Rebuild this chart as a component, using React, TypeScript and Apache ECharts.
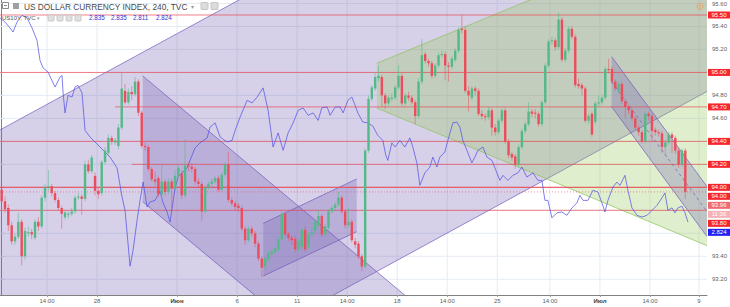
import React, { useEffect, useRef } from "react";
import * as echarts from "echarts";

const FONT = "Liberation Sans, Arial, sans-serif";

// DXY 4h candles: [open, close, low, high]
const dxyCandles: number[][] = [
  [93.98, 93.88, 93.85, 94.03], [93.88, 93.81, 93.78, 93.92], [93.82, 93.67, 93.62, 93.85], [93.67, 93.53, 93.5, 93.7],
  [93.53, 93.57, 93.5, 93.6], [93.57, 93.7, 93.55, 93.78], [93.7, 93.4, 93.32, 93.72], [93.4, 93.62, 93.37, 93.65],
  [93.6, 93.61, 93.57, 93.66], [93.61, 93.59, 93.55, 93.64], [93.56, 93.7, 93.54, 93.72], [93.7, 93.66, 93.62, 93.74],
  [93.66, 93.91, 93.64, 93.93], [93.91, 94.0, 93.88, 94.03], [94.0, 94.01, 93.97, 94.15], [94.01, 93.95, 93.92, 94.03],
  [93.95, 93.89, 93.87, 93.97], [93.89, 93.82, 93.8, 93.91], [93.82, 93.77, 93.64, 93.84], [93.74, 93.78, 93.72, 93.8],
  [93.76, 93.77, 93.73, 93.79], [93.77, 93.79, 93.75, 93.82], [93.79, 93.91, 93.77, 93.93], [93.91, 93.92, 93.89, 93.95],
  [93.92, 93.9, 93.76, 93.94], [93.9, 94.2, 93.88, 94.23], [94.2, 94.14, 94.12, 94.24], [94.14, 94.26, 94.12, 94.28],
  [94.1, 93.97, 93.93, 94.13], [93.97, 93.94, 93.9, 94.0], [93.95, 94.22, 93.93, 94.24], [94.22, 94.32, 94.2, 94.35],
  [94.3, 94.43, 94.28, 94.46], [94.43, 94.4, 94.37, 94.45], [94.39, 94.41, 94.37, 94.43], [94.36, 94.52, 94.33, 94.55],
  [94.52, 94.86, 94.5, 95.0], [94.84, 94.74, 94.72, 94.9], [94.74, 94.83, 94.72, 94.86], [94.83, 94.81, 94.76, 94.88],
  [94.81, 94.92, 94.79, 94.96], [94.92, 94.65, 94.62, 94.94], [94.65, 94.36, 94.34, 94.67], [94.36, 94.35, 94.32, 94.39],
  [94.35, 94.16, 94.14, 94.37], [94.16, 94.07, 94.05, 94.18], [94.07, 94.05, 94.02, 94.14], [94.08, 93.94, 93.92, 94.1],
  [93.94, 94.05, 93.9, 94.2], [94.05, 93.96, 93.93, 94.07], [93.96, 94.05, 93.94, 94.08], [94.05, 93.99, 93.8, 94.07],
  [93.99, 94.1, 93.97, 94.15], [94.1, 94.17, 94.08, 94.19], [94.12, 93.93, 93.9, 94.15], [93.93, 94.19, 93.91, 94.42],
  [94.19, 94.18, 94.14, 94.22], [94.18, 94.16, 94.13, 94.21], [94.16, 94.05, 94.02, 94.18], [94.05, 94.03, 94.0, 94.08],
  [94.03, 93.79, 93.71, 94.05], [93.79, 94.0, 93.77, 94.02], [94.0, 94.03, 93.98, 94.05], [94.03, 94.05, 94.01, 94.08],
  [94.05, 94.08, 94.03, 94.1], [94.08, 93.98, 93.96, 94.1], [93.98, 94.11, 93.96, 94.13], [94.11, 94.2, 94.09, 94.22],
  [94.2, 93.89, 93.87, 94.31], [93.89, 93.86, 93.84, 93.91], [93.86, 93.83, 93.8, 93.88], [93.84, 93.82, 93.79, 93.86],
  [93.82, 93.64, 93.62, 93.84], [93.64, 93.54, 93.5, 93.66], [93.54, 93.64, 93.52, 93.66], [93.64, 93.6, 93.57, 93.66],
  [93.6, 93.51, 93.48, 93.62], [93.51, 93.38, 93.36, 93.53], [93.38, 93.3, 93.22, 93.4], [93.31, 93.38, 93.28, 93.4],
  [93.37, 93.43, 93.35, 93.45], [93.42, 93.44, 93.4, 93.46], [93.44, 93.47, 93.42, 93.49], [93.46, 93.55, 93.44, 93.57],
  [93.55, 93.77, 93.53, 93.8], [93.77, 93.59, 93.57, 93.79], [93.59, 93.56, 93.53, 93.61], [93.56, 93.54, 93.5, 93.58],
  [93.55, 93.46, 93.43, 93.58], [93.46, 93.53, 93.44, 93.55], [93.48, 93.63, 93.45, 93.65], [93.63, 93.46, 93.44, 93.66],
  [93.48, 93.59, 93.46, 93.61], [93.59, 93.61, 93.57, 93.66], [93.62, 93.7, 93.6, 93.72], [93.67, 93.75, 93.65, 93.8],
  [93.75, 93.59, 93.57, 93.77], [93.59, 93.66, 93.57, 93.68], [93.65, 93.79, 93.63, 93.81], [93.79, 93.82, 93.77, 93.84],
  [93.82, 93.85, 93.8, 93.87], [93.85, 93.91, 93.83, 93.96], [93.91, 93.79, 93.77, 93.93], [93.79, 93.67, 93.64, 93.81],
  [93.67, 93.7, 93.65, 93.82], [93.7, 93.54, 93.52, 93.72], [93.53, 93.5, 93.47, 93.56], [93.51, 93.4, 93.38, 93.53],
  [93.4, 93.31, 93.27, 93.42], [93.31, 94.32, 93.29, 94.34], [94.32, 94.77, 94.3, 94.8], [94.77, 94.87, 94.75, 94.89],
  [94.86, 94.96, 94.84, 95.0], [94.95, 94.97, 94.92, 95.06], [94.96, 94.8, 94.7, 94.98], [94.8, 94.73, 94.68, 94.82],
  [94.73, 94.78, 94.71, 94.8], [94.77, 94.78, 94.75, 94.82], [94.78, 94.87, 94.76, 94.89], [94.87, 94.97, 94.85, 95.06],
  [94.97, 94.73, 94.71, 94.99], [94.73, 94.8, 94.71, 94.82], [94.8, 94.78, 94.75, 94.83], [94.78, 94.74, 94.72, 94.8],
  [94.74, 94.62, 94.55, 94.76], [94.62, 94.92, 94.6, 94.95], [94.92, 95.15, 94.9, 95.29], [95.16, 95.1, 95.08, 95.18],
  [95.1, 95.08, 95.05, 95.12], [95.08, 94.97, 94.95, 95.1], [94.97, 95.06, 94.95, 95.08], [95.06, 95.15, 95.04, 95.17],
  [95.15, 95.16, 95.13, 95.19], [95.16, 95.06, 94.93, 95.18], [95.06, 95.05, 94.92, 95.09], [95.05, 95.12, 95.03, 95.14],
  [95.11, 95.19, 95.09, 95.21], [95.19, 95.37, 95.17, 95.39], [95.38, 95.37, 95.34, 95.5], [95.37, 94.84, 94.82, 95.4],
  [94.84, 94.8, 94.66, 94.88], [94.78, 94.86, 94.76, 94.88], [94.86, 94.84, 94.8, 94.88], [94.84, 94.64, 94.62, 94.86],
  [94.64, 94.62, 94.59, 94.67], [94.62, 94.61, 94.58, 94.64], [94.61, 94.67, 94.59, 94.7], [94.67, 94.52, 94.45, 94.69],
  [94.52, 94.48, 94.45, 94.55], [94.48, 94.58, 94.46, 94.6], [94.58, 94.67, 94.56, 94.69], [94.67, 94.4, 94.38, 94.69],
  [94.4, 94.28, 94.25, 94.42], [94.29, 94.26, 94.23, 94.31], [94.27, 94.2, 94.16, 94.29], [94.2, 94.35, 94.18, 94.37],
  [94.35, 94.49, 94.33, 94.51], [94.49, 94.55, 94.47, 94.57], [94.55, 94.66, 94.53, 94.74], [94.66, 94.64, 94.61, 94.68],
  [94.65, 94.64, 94.6, 94.68], [94.64, 94.55, 94.53, 94.66], [94.55, 94.74, 94.53, 94.76], [94.74, 95.06, 94.72, 95.08],
  [95.06, 95.27, 95.04, 95.29], [95.27, 95.28, 95.24, 95.31], [95.28, 95.22, 95.19, 95.3], [95.22, 95.46, 95.2, 95.52],
  [95.46, 95.11, 95.09, 95.48], [95.11, 95.19, 95.09, 95.21], [95.19, 95.38, 95.17, 95.4], [95.38, 95.31, 95.29, 95.4],
  [95.31, 94.89, 94.87, 95.33], [94.9, 94.88, 94.86, 94.95], [94.89, 94.86, 94.8, 94.91], [94.86, 94.58, 94.56, 94.88],
  [94.58, 94.62, 94.55, 94.64], [94.64, 94.46, 94.44, 94.66], [94.57, 94.73, 94.55, 94.75], [94.73, 94.74, 94.71, 94.8],
  [94.74, 94.78, 94.72, 94.8], [94.78, 95.03, 94.76, 95.05], [95.03, 95.02, 94.99, 95.12], [95.03, 94.92, 94.9, 95.05],
  [94.92, 94.86, 94.84, 94.94], [94.84, 94.9, 94.82, 94.92], [94.9, 94.75, 94.73, 94.92], [94.75, 94.7, 94.6, 94.77],
  [94.7, 94.67, 94.64, 94.72], [94.67, 94.6, 94.58, 94.69], [94.6, 94.52, 94.5, 94.62], [94.52, 94.48, 94.45, 94.54],
  [94.48, 94.4, 94.38, 94.5], [94.4, 94.64, 94.38, 94.66], [94.64, 94.62, 94.58, 94.66], [94.62, 94.49, 94.4, 94.64],
  [94.5, 94.48, 94.45, 94.52], [94.48, 94.47, 94.44, 94.5], [94.47, 94.35, 94.3, 94.49], [94.35, 94.39, 94.28, 94.41],
  [94.39, 94.46, 94.37, 94.48], [94.46, 94.43, 94.3, 94.48], [94.43, 94.32, 94.29, 94.45], [94.32, 94.2, 94.17, 94.34],
  [94.2, 94.32, 94.18, 94.34], [94.32, 93.96, 93.9, 94.34],
];

// US10Y overlay: [bar, yield]
const tnyPoints: number[][] = [
  [-0.5, 3.069], [1.0, 3.064], [2.5, 3.057], [3.4, 3.052], [4.6, 3.064], [6.1, 3.072], [7.6, 3.069], [9.1, 3.057],
  [10.6, 3.042], [11.5, 3.018], [12.4, 3.009], [13.9, 3.004], [16.0, 2.986], [17.5, 2.998], [18.1, 3.0], [18.4, 2.98],
  [19.0, 2.955], [19.9, 2.976], [21.1, 2.974], [22.0, 2.986], [22.9, 2.988], [24.1, 2.979], [25.0, 2.934], [26.5, 2.926],
  [29.5, 2.914], [32.5, 2.902], [34.6, 2.889], [36.1, 2.854], [37.0, 2.838], [38.5, 2.771], [39.4, 2.79], [40.6, 2.826],
  [41.5, 2.85], [42.4, 2.872], [43.6, 2.842], [44.5, 2.848], [46.0, 2.85], [47.5, 2.861], [48.4, 2.847], [49.6, 2.836],
  [50.5, 2.824], [52.0, 2.865], [52.9, 2.878], [55.6, 2.889], [58.0, 2.913], [59.5, 2.919], [61.6, 2.925], [62.5, 2.938],
  [64.0, 2.943], [65.5, 2.926], [67.6, 2.92], [69.1, 2.922], [70.0, 2.934], [71.5, 2.95], [73.6, 2.97], [75.1, 2.967],
  [76.6, 2.974], [78.4, 2.985], [79.9, 2.958], [81.4, 2.914], [82.9, 2.931], [84.4, 2.91], [85.9, 2.931], [87.4, 2.943],
  [88.9, 2.958], [90.4, 2.961], [91.9, 2.952], [93.4, 2.955], [94.9, 2.946], [96.0, 2.961], [97.6, 2.962], [98.5, 2.952],
  [100.0, 2.962], [101.5, 2.962], [102.4, 2.955], [103.8, 2.97], [105.0, 2.974], [106.0, 2.964], [106.8, 2.955], [108.3, 2.944],
  [109.8, 2.943], [111.3, 2.939], [112.8, 2.928], [114.3, 2.922], [115.2, 2.904], [115.8, 2.898], [117.0, 2.919], [118.0, 2.914],
  [119.4, 2.922], [120.9, 2.914], [122.4, 2.925], [123.3, 2.914], [124.5, 2.895], [125.4, 2.868], [126.9, 2.883], [128.4, 2.89],
  [129.3, 2.902], [130.5, 2.89], [131.4, 2.902], [132.9, 2.908], [133.8, 2.922], [135.3, 2.943], [136.5, 2.944], [137.4, 2.938],
  [138.3, 2.922], [139.8, 2.907], [141.0, 2.895], [141.9, 2.902], [142.8, 2.91], [144.3, 2.914], [145.5, 2.902], [147.0, 2.898],
  [148.5, 2.883], [149.4, 2.874], [150.3, 2.88], [151.8, 2.874], [153.3, 2.88], [154.8, 2.883], [156.0, 2.89], [157.5, 2.878],
  [159.3, 2.883], [160.8, 2.874], [162.0, 2.874], [162.9, 2.85], [163.8, 2.85], [165.0, 2.829], [166.5, 2.835], [168.0, 2.836],
  [169.5, 2.832], [171.0, 2.841], [172.5, 2.847], [173.4, 2.856], [174.3, 2.85], [175.8, 2.85], [177.3, 2.862], [178.8, 2.86],
  [180.0, 2.847], [180.9, 2.836], [181.8, 2.85], [183.3, 2.866], [184.5, 2.872], [185.4, 2.868], [186.9, 2.88], [187.8, 2.862],
  [189.0, 2.841], [190.5, 2.832], [192.0, 2.83], [193.5, 2.832], [195.0, 2.838], [196.5, 2.844], [198.0, 2.853], [198.9, 2.859],
  [199.8, 2.838], [201.0, 2.841], [201.9, 2.835], [202.8, 2.841], [204.0, 2.843], [204.9, 2.835], [205.8, 2.824],
];
const tnyLegend = [2.835, 2.835, 2.811, 2.824];

const xTickBars = [13.6, 28.6, 52.6, 70.6, 88.6, 103.6, 118.6, 133.6, 148.6, 164.4, 179.4, 194.4, 209.1];
const xTickTexts = ["14:00", "28", "Июн", "6", "11", "14:00", "18", "14:00", "25", "14:00", "Июл", "14:00", "9"];
const monthTexts = ["Июн", "Июл"];
const yTicks = [93.2, 93.4, 93.6, 93.8, 94.0, 94.2, 94.4, 94.6, 94.8, 95.0, 95.2, 95.4, 95.6];

const levelPrices = [95.5, 95.0, 94.7, 94.4, 94.2, 94.0, 94.0, 93.8];
const levelStartBars = [-0.5, -0.5, 34, -0.5, 39, -0.5, -0.5, -0.5];

// channel corners [bar, price]: upper start, upper end, lower end, lower start
const purpleChannel = [[-10, 94.35], [215, 97.9], [215, 94.89], [-10, 91.33]];
const greenChannel = [[112.5, 95.08], [215, 96.31], [215, 93.45], [112.5, 94.69]];
const fallChannel = [[42.3, 94.97], [130, 92.84], [130, 91.75], [42.3, 93.875]];
const riseChannel = [[78.45, 93.687], [106.45, 94.073], [106.45, 93.614], [78.45, 93.228]];
const lateChannel = [[182.9, 95.137], [211.5, 94.007], [211.5, 93.572], [182.9, 94.702]];

const countdownText = "11:36";

const X_MIN = -0.5;
const X_MAX = 211.5;
const Y_MIN = 93.063;
const Y_MAX = 95.6305;
const T_MIN = 2.7364;
const T_MAX = 3.0905;

const PURPLE_FILL = "rgba(120,100,180,0.30)";
const PURPLE_LINE = "rgba(115,90,190,0.7)";
const GREEN_FILL = "rgba(150,200,90,0.30)";
const GREEN_LINE = "rgba(140,195,90,0.7)";

export default function App() {
  const ref = useRef<HTMLDivElement>(null);

  useEffect(() => {
    document.body.style.margin = "0";
    if (!ref.current) return;
    const chart = echarts.init(ref.current, null, { renderer: "svg" });

    const channels = [
      { pts: purpleChannel, fill: PURPLE_FILL, stroke: PURPLE_LINE, mid: false },
      { pts: greenChannel, fill: GREEN_FILL, stroke: GREEN_LINE, mid: false },
      { pts: fallChannel, fill: PURPLE_FILL, stroke: PURPLE_LINE, mid: false },
      { pts: riseChannel, fill: PURPLE_FILL, stroke: PURPLE_LINE, mid: false },
      { pts: lateChannel, fill: PURPLE_FILL, stroke: PURPLE_LINE, mid: true },
    ];

    const lastClose = dxyCandles[dxyCandles.length - 1][1];

    const fmtX = (v: number) => {
      const i = xTickBars.findIndex((b) => Math.abs(b - v) < 0.01);
      if (i < 0) return "";
      const t = xTickTexts[i];
      return monthTexts.includes(t) ? `{b|${t}}` : t;
    };

    const yLabel = {
      formatter: (v: number) => v.toFixed(2),
      fontSize: 6,
      fontFamily: FONT,
      color: "#606060",
      margin: 5,
    };

    chart.setOption({
      animation: false,
      grid: { left: 0, right: 23, top: 0, bottom: 12, containLabel: false },
      xAxis: {
        type: "value",
        min: X_MIN,
        max: X_MAX,
        axisLine: { show: true, lineStyle: { color: "#808080", width: 1 } },
        axisTick: { show: true, customValues: xTickBars, length: 2, lineStyle: { color: "#9a9a9a" } },
        axisLabel: {
          customValues: xTickBars,
          formatter: fmtX,
          fontSize: 6,
          fontFamily: FONT,
          color: "#606060",
          margin: 3,
          rich: { b: { fontSize: 6, fontWeight: "bold", color: "#404040", fontFamily: FONT } },
        },
        splitLine: { show: false },
      },
      yAxis: [
        {
          type: "value",
          position: "right",
          min: Y_MIN,
          max: Y_MAX,
          axisLine: { show: true, lineStyle: { color: "#808080", width: 1 } },
          axisTick: { show: true, customValues: yTicks, length: 3, lineStyle: { color: "#9a9a9a" } },
          axisLabel: { ...yLabel, customValues: yTicks },
          splitLine: { show: false },
        },
        { type: "value", min: T_MIN, max: T_MAX, show: false },
      ],
      series: [
        {
          type: "custom",
          name: "grid",
          z: 1,
          silent: true,
          clip: true,
          data: [[0, 94]],
          renderItem: (params: any, api: any) => {
            const children: any[] = [];
            xTickBars.forEach((b) => {
              const a = api.coord([b, Y_MIN]);
              const c = api.coord([b, Y_MAX]);
              children.push({ type: "line", shape: { x1: a[0], y1: a[1], x2: c[0], y2: c[1] }, style: { stroke: "#e4ecf4", lineWidth: 1 } });
            });
            yTicks.forEach((t) => {
              const a = api.coord([X_MIN, t]);
              const c = api.coord([X_MAX, t]);
              children.push({ type: "line", shape: { x1: a[0], y1: a[1], x2: c[0], y2: c[1] }, style: { stroke: "#e4ecf4", lineWidth: 1 } });
            });
            return { type: "group", children };
          },
        },
        {
          type: "custom",
          name: "channels",
          z: 2,
          silent: true,
          clip: true,
          data: channels.map(() => [0, 94]),
          renderItem: (params: any, api: any) => {
            const ch = channels[params.dataIndex];
            const p = ch.pts.map((pt) => api.coord(pt));
            const children: any[] = [
              { type: "polygon", shape: { points: p }, style: { fill: ch.fill } },
              { type: "line", shape: { x1: p[0][0], y1: p[0][1], x2: p[1][0], y2: p[1][1] }, style: { stroke: ch.stroke, lineWidth: 1 } },
              { type: "line", shape: { x1: p[3][0], y1: p[3][1], x2: p[2][0], y2: p[2][1] }, style: { stroke: ch.stroke, lineWidth: 1 } },
            ];
            if (ch.mid) {
              children.push({
                type: "line",
                shape: {
                  x1: (p[0][0] + p[3][0]) / 2, y1: (p[0][1] + p[3][1]) / 2,
                  x2: (p[1][0] + p[2][0]) / 2, y2: (p[1][1] + p[2][1]) / 2,
                },
                style: { stroke: ch.stroke, lineWidth: 1, lineDash: [3, 3] },
              });
            }
            return { type: "group", children };
          },
        },
        {
          type: "custom",
          name: "levels",
          z: 3,
          silent: true,
          clip: true,
          data: levelPrices.map((p, i) => [levelStartBars[i], p]),
          renderItem: (params: any, api: any) => {
            const a = api.coord([api.value(0), api.value(1)]);
            const c = api.coord([X_MAX, api.value(1)]);
            return { type: "line", shape: { x1: a[0], y1: a[1], x2: c[0], y2: c[1] }, style: { stroke: "rgba(238,70,80,0.68)", lineWidth: 1 } };
          },
        },
        {
          type: "custom",
          name: "priceLine",
          z: 3,
          silent: true,
          clip: true,
          data: [[X_MIN, lastClose]],
          renderItem: (params: any, api: any) => {
            const a = api.coord([X_MIN, api.value(1)]);
            const c = api.coord([X_MAX, api.value(1)]);
            return { type: "line", shape: { x1: a[0], y1: a[1], x2: c[0], y2: c[1] }, style: { stroke: "rgba(235,77,92,0.6)", lineWidth: 1, lineDash: [1, 2] } };
          },
        },
        {
          type: "line",
          name: "US10Y",
          yAxisIndex: 1,
          z: 4,
          data: tnyPoints,
          symbol: "none",
          silent: true,
          lineStyle: { color: "#5656e4", width: 1, opacity: 0.75 },
        },
        {
          type: "custom",
          name: "DXY",
          z: 5,
          silent: true,
          clip: true,
          dimensions: ["i", "open", "close", "low", "high"],
          encode: { x: 0, y: [1, 2, 3, 4] },
          data: dxyCandles.map((d, i) => [i, d[0], d[1], d[2], d[3]]),
          renderItem: (params: any, api: any) => {
            const i = api.value(0);
            const o = api.value(1);
            const c = api.value(2);
            const l = api.value(3);
            const h = api.value(4);
            const pO = api.coord([i, o]);
            const pC = api.coord([i, c]);
            const pL = api.coord([i, l]);
            const pH = api.coord([i, h]);
            const w = api.size([1, 0])[0] * 0.72;
            const up = c >= o;
            const top = Math.min(pO[1], pC[1]);
            const hh = Math.max(1, Math.abs(pO[1] - pC[1]));
            return {
              type: "group",
              children: [
                { type: "line", shape: { x1: pO[0], y1: pH[1], x2: pO[0], y2: pL[1] }, style: { stroke: up ? "rgba(83,185,135,0.55)" : "rgba(235,77,92,0.5)", lineWidth: 1 } },
                { type: "rect", shape: { x: pO[0] - w / 2, y: top, width: w, height: hh }, style: { fill: up ? "#53b987" : "#eb4d5c" } },
              ],
            };
          },
        },
      ],
    });

    // right-hand price tags, stacked like the trading terminal does
    const yOf = (v: number, axis: number) => chart.convertToPixel({ yAxisIndex: axis } as any, v) as unknown as number;
    const tnyLast = tnyLegend[3];
    const tags: { text: string; y: number; bg: string }[] = [
      ...levelPrices.map((p) => ({ text: p.toFixed(2), y: yOf(p, 0), bg: "#f7262e" })),
      { text: lastClose.toFixed(2), y: yOf(lastClose, 0), bg: "#ef6b74" },
      { text: countdownText, y: yOf(lastClose, 0) + 0.01, bg: "#f5b1b6" },
      { text: tnyLast.toFixed(3), y: yOf(tnyLast, 1), bg: "#2020f2" },
    ];
    tags.sort((a, b) => a.y - b.y);
    for (let k = 1; k < tags.length; k++) {
      if (tags[k].y < tags[k - 1].y + 9) tags[k].y = tags[k - 1].y + 9;
    }

    // axis labels hidden behind the tags are left out
    const visibleTicks = yTicks.filter((t) => {
      const ty = yOf(t, 0);
      return !tags.some((g) => Math.abs(g.y - ty) < 8);
    });

    const txt = (text: string, x: number, y: number, size: number, fill: string, extra: any = {}) => ({
      type: "text",
      silent: true,
      style: { text, x, y, fontSize: size, fontFamily: FONT, fill, verticalAlign: "middle", ...extra },
    });

    const graphic: any[] = [];
    tags.forEach((t) => {
      graphic.push({ type: "rect", silent: true, z: 100, shape: { x: 708, y: t.y - 3.5, width: 22, height: 7 }, style: { fill: t.bg } });
      graphic.push({ ...txt(t.text, 719, t.y, 6, "#ffffff", { align: "center", lineHeight: 6 }), z: 101 });
    });

    // legend (top-left)
    graphic.push({ type: "rect", silent: true, z: 100, shape: { x: 2.5, y: 2.5, width: 6, height: 6 }, style: { fill: "#ffffff", stroke: "#8c8c8c", lineWidth: 1 } });
    graphic.push({ type: "line", silent: true, z: 101, shape: { x1: 4, y1: 5.5, x2: 7, y2: 5.5 }, style: { stroke: "#8c8c8c", lineWidth: 1 } });
    graphic.push({ type: "rect", silent: true, z: 100, shape: { x: 13, y: 3, width: 6, height: 6 }, style: { fill: "#a0a0a0" } });
    graphic.push({ ...txt("US DOLLAR CURRENCY INDEX, 240, TVC", 24, 6.5, 8.3, "#4a4a4a"), z: 100 });
    graphic.push({ ...txt("▾", 191, 6.5, 6, "#999999"), z: 100 });
    graphic.push({ type: "rect", silent: true, z: 100, shape: { x: 201, y: 2.5, width: 7, height: 7, r: 1 }, style: { fill: "#dcdcdc", stroke: "#c4c4c4", lineWidth: 1 } });
    graphic.push({ type: "rect", silent: true, z: 100, shape: { x: 211, y: 2.5, width: 7, height: 7, r: 1 }, style: { fill: "#dcdcdc", stroke: "#c4c4c4", lineWidth: 1 } });

    graphic.push({ ...txt("US10Y, TVC", 2, 17.5, 6, "#555555"), z: 100 });
    graphic.push({ ...txt("▾", 37, 17.5, 5, "#999999"), z: 100 });
    [48, 57, 66, 75].forEach((x) => {
      graphic.push({ type: "rect", silent: true, z: 100, shape: { x, y: 15, width: 6, height: 6, r: 1 }, style: { fill: "#e0e0e0", stroke: "#c8c8c8", lineWidth: 1 } });
    });
    const legX = [89, 111, 133, 156];
    tnyLegend.forEach((v, k) => {
      graphic.push({ ...txt(v.toFixed(3), legX[k], 17.5, 6.3, "#3434d8"), z: 100 });
    });

    // alert icon near top-right
    graphic.push({ type: "circle", silent: true, z: 100, shape: { cx: 700, cy: 6.5, r: 3 }, style: { fill: "none", stroke: "#f2a15a", lineWidth: 1 } });
    graphic.push({ type: "line", silent: true, z: 100, shape: { x1: 700, y1: 5, x2: 700, y2: 7.5 }, style: { stroke: "#f2a15a", lineWidth: 1 } });

    chart.setOption({
      yAxis: [{ axisLabel: { ...yLabel, customValues: visibleTicks } }, {}],
      graphic,
    });

    return () => chart.dispose();
  }, []);

  return <div ref={ref} style={{ width: 730, height: 307 }} />;
}
